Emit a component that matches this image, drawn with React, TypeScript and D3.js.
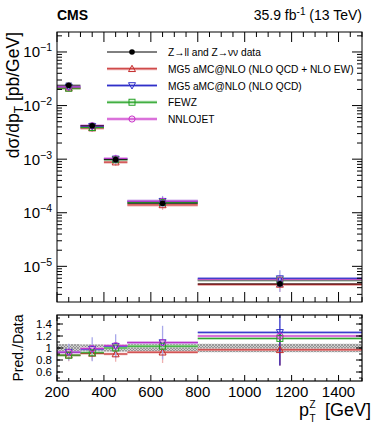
import React from 'react';
import * as d3 from 'd3';

// bins in pT(Z) [GeV]
const binEdges = [200, 300, 400, 500, 800, 1500];
const binCenters = [250, 350, 450, 650, 1150];

// measured cross section dσ/dpT [pb/GeV]
const dataXs = [0.0240, 0.0042, 0.00098, 0.000150, 0.0000047];
const dataErr = [0.0010, 0.00018, 0.00005, 0.000009, 0.0000004];
const dataRatioErr = [0.065, 0.06, 0.06, 0.065, 0.07];

// predictions
const nloEwXs = [0.0211, 0.0038, 0.00088, 0.000140, 0.0000046];
const nloQcdXs = [0.0223, 0.0041, 0.00101, 0.000164, 0.0000059];
const fewzXs = [0.0211, 0.0039, 0.00098, 0.000155, 0.0000055];
const nnlojetXs = [0.0223, 0.0042, 0.00102, 0.000164, 0.0000056];

// ratios to data
const nloEwRatio = [0.88, 0.91, 0.90, 0.93, 0.97];
const nloQcdRatio = [0.93, 0.98, 1.03, 1.09, 1.26];
const fewzRatio = [0.88, 0.92, 1.00, 1.03, 1.16];
const nnlojetRatio = [0.93, 0.99, 1.04, 1.09, 1.20];

const nloEwRatioErr = [0.10, 0.12, 0.13, 0.18, 0.26];
const nloQcdRatioErr = [0.14, 0.20, 0.20, 0.28, 0.55];
const fewzRatioErr = [0.04, 0.05, 0.05, 0.06, 0.06];
const nnlojetRatioErr = [0.04, 0.04, 0.05, 0.05, 0.05];

const xTicks = [200, 400, 600, 800, 1000, 1200, 1400];
const yLogTicks = [1e-1, 1e-2, 1e-3, 1e-4, 1e-5];
const yLogExp = ['−1', '−2', '−3', '−4', '−5'];
const ratioTicks = [0.6, 0.8, 1, 1.2, 1.4];
const ratioTickLabels = ['0.6', '0.8', '1', '1.2', '1.4'];

const legendLabels = [
  'Z→ll and Z→νν data',
  'MG5 aMC@NLO (NLO QCD + NLO EW)',
  'MG5 aMC@NLO (NLO QCD)',
  'FEWZ',
  'NNLOJET',
];

const series = [
  { name: legendLabels[1], color: '#c42a2a', light: '#eeb0b0', marker: 'tu', xs: nloEwXs, ratio: nloEwRatio, rerr: nloEwRatioErr },
  { name: legendLabels[2], color: '#3030c8', light: '#a8a8ea', marker: 'td', xs: nloQcdXs, ratio: nloQcdRatio, rerr: nloQcdRatioErr },
  { name: legendLabels[3], color: '#22a022', light: '#a8dca8', marker: 'sq', xs: fewzXs, ratio: fewzRatio, rerr: fewzRatioErr },
  { name: legendLabels[4], color: '#c832c8', light: '#ecb0ec', marker: 'ci', xs: nnlojetXs, ratio: nnlojetRatio, rerr: nnlojetRatioErr },
];

const W = 382, H = 431;
const L = 57, R = 362;
const T1 = 32, B1 = 302;
const T2 = 315, B2 = 381;
const FONT = '"Liberation Sans", Arial, Helvetica, sans-serif';

const Marker = ({ type, x, y, color }: any) => {
  const s = 3.5;
  if (type === 'tu')
    return <polygon points={`${x},${y - s} ${x - s},${y + s * 0.8} ${x + s},${y + s * 0.8}`} fill="none" stroke={color} strokeWidth={1} />;
  if (type === 'td')
    return <polygon points={`${x},${y + s} ${x - s},${y - s * 0.8} ${x + s},${y - s * 0.8}`} fill="none" stroke={color} strokeWidth={1} />;
  if (type === 'sq')
    return <rect x={x - 3} y={y - 3} width={6} height={6} fill="none" stroke={color} strokeWidth={1} />;
  if (type === 'ci') return <circle cx={x} cy={y} r={3.1} fill="none" stroke={color} strokeWidth={1} />;
  return <circle cx={x} cy={y} r={2.8} fill="#000" />;
};

export default function App() {
  const x = d3.scaleLinear().domain([200, 1500]).range([L, R]);
  const y = d3.scaleLog().domain([2.16e-6, 0.236]).range([B1, T1]);
  const yr = d3.scaleLinear().domain([0.45, 1.55]).range([B2, T2]);

  const xMinor = d3.range(200, 1501, 50);
  const yMinor: number[] = [];
  for (let e = -6; e <= -1; e++)
    for (let m = 2; m <= 9; m++) {
      const v = m * Math.pow(10, e);
      if (v > 2.16e-6 && v < 0.236) yMinor.push(v);
    }
  const rMinor = d3.range(0.5, 1.55, 0.1);

  return (
    <svg width={W} height={H} style={{ position: 'absolute', left: 0, top: 0, background: '#fff' }} fontFamily={FONT}>
      <defs>
        <pattern id="hatch" width={3} height={3} patternUnits="userSpaceOnUse">
          <rect width={3} height={3} fill="#cfcfcf" />
          <path d="M0,0 L3,3 M3,0 L0,3" stroke="#777" strokeWidth={0.6} />
        </pattern>
        <clipPath id="clipTop"><rect x={L} y={T1} width={R - L} height={B1 - T1} /></clipPath>
        <clipPath id="clipRat"><rect x={L} y={T2} width={R - L} height={B2 - T2} /></clipPath>
      </defs>

      {/* header */}
      <text x={L} y={20} fontSize={14} fontWeight="bold">CMS</text>
      <text x={R} y={20} fontSize={14} textAnchor="end">
        35.9 fb<tspan dy={-5} fontSize={10}>-1</tspan><tspan dy={5}> (13 TeV)</tspan>
      </text>

      {/* ===== top panel ===== */}
      <g clipPath="url(#clipTop)">
        {series.map((s, si) =>
          s.xs.map((v, i) => (
            <line key={`b${si}-${i}`} x1={x(binEdges[i])} x2={x(binEdges[i + 1])} y1={y(v)} y2={y(v)} stroke={s.light} strokeWidth={3} />
          ))
        )}
        {series.map((s, si) =>
          s.xs.map((v, i) => {
            const e = (v * s.rerr[i]) / s.ratio[i];
            return (
              <g key={`l${si}-${i}`}>
                <line x1={x(binEdges[i])} x2={x(binEdges[i + 1])} y1={y(v)} y2={y(v)} stroke={s.color} strokeWidth={1} />
                <line x1={x(binCenters[i])} x2={x(binCenters[i])} y1={y(v - e)} y2={y(v + e)} stroke={s.light} strokeWidth={1.3} />
              </g>
            );
          })
        )}
        {series.map((s, si) =>
          s.xs.map((v, i) => <Marker key={`m${si}-${i}`} type={s.marker} x={x(binCenters[i])} y={y(v)} color={s.color} />)
        )}
        {dataXs.map((v, i) => (
          <g key={`d${i}`}>
            <line x1={x(binEdges[i])} x2={x(binEdges[i + 1])} y1={y(v)} y2={y(v)} stroke="#000" strokeWidth={0.8} />
            <line x1={x(binCenters[i])} x2={x(binCenters[i])} y1={y(v - dataErr[i])} y2={y(v + dataErr[i])} stroke="#000" strokeWidth={1} />
            <rect x={x(binCenters[i]) - 3} y={y(v) - 3} width={6} height={6} fill="#2a2a7a" opacity={0.55} />
            <Marker type="data" x={x(binCenters[i])} y={y(v)} />
          </g>
        ))}
      </g>

      {/* top axes */}
      <rect x={L} y={T1} width={R - L} height={B1 - T1} fill="none" stroke="#000" strokeWidth={1} />
      {xMinor.map(t => {
        const len = t % 200 === 0 ? 10 : 5;
        return (
          <g key={`xt${t}`}>
            <line x1={x(t)} x2={x(t)} y1={B1} y2={B1 - len} stroke="#000" />
            <line x1={x(t)} x2={x(t)} y1={T1} y2={T1 + len} stroke="#000" />
          </g>
        );
      })}
      {yLogTicks.map((t, i) => (
        <g key={`yt${i}`}>
          <line x1={L} x2={L + 10} y1={y(t)} y2={y(t)} stroke="#000" />
          <line x1={R} x2={R - 10} y1={y(t)} y2={y(t)} stroke="#000" />
          <text x={52} y={y(t) + 5.5} fontSize={15} textAnchor="end">
            10<tspan dy={-6} fontSize={10.5}>{yLogExp[i]}</tspan>
          </text>
        </g>
      ))}
      {yMinor.map((t, i) => (
        <g key={`ym${i}`}>
          <line x1={L} x2={L + 5} y1={y(t)} y2={y(t)} stroke="#000" />
          <line x1={R} x2={R - 5} y1={y(t)} y2={y(t)} stroke="#000" />
        </g>
      ))}
      <text transform={`translate(19,${T1}) rotate(-90)`} fontSize={17.5} textAnchor="end">
        dσ/dp<tspan dy={4} fontSize={12}>T</tspan><tspan dy={-4}> [pb/GeV]</tspan>
      </text>

      {/* legend */}
      {legendLabels.map((lab, i) => {
        const ly = 52 + i * 16.75;
        const s = i === 0 ? null : series[i - 1];
        return (
          <g key={`lg${i}`}>
            {s && <line x1={107} x2={157} y1={ly} y2={ly} stroke={s.light} strokeWidth={3} />}
            <line x1={107} x2={157} y1={ly} y2={ly} stroke={s ? s.color : '#000'} strokeWidth={1} />
            <Marker type={s ? s.marker : 'data'} x={132} y={ly} color={s ? s.color : '#000'} />
            <text x={168} y={ly + 4} fontSize={10.2}>{lab}</text>
          </g>
        );
      })}

      {/* ===== ratio panel ===== */}
      <g clipPath="url(#clipRat)">
        {dataRatioErr.map((e, i) => (
          <rect key={`h${i}`} x={x(binEdges[i])} width={x(binEdges[i + 1]) - x(binEdges[i])} y={yr(1 + e)} height={yr(1 - e) - yr(1 + e)} fill="url(#hatch)" />
        ))}
        {series.map((s, si) =>
          s.ratio.map((v, i) => (
            <line key={`rb${si}-${i}`} x1={x(binEdges[i])} x2={x(binEdges[i + 1])} y1={yr(v)} y2={yr(v)} stroke={s.light} strokeWidth={2.5} />
          ))
        )}
        {series.map((s, si) =>
          s.ratio.map((v, i) => (
            <g key={`rl${si}-${i}`}>
              <line x1={x(binEdges[i])} x2={x(binEdges[i + 1])} y1={yr(v)} y2={yr(v)} stroke={s.color} strokeWidth={1} />
              <line x1={x(binCenters[i])} x2={x(binCenters[i])} y1={yr(v - s.rerr[i])} y2={yr(v + s.rerr[i])} stroke={i === 4 ? s.color : s.light} strokeWidth={1.3} />
            </g>
          ))
        )}
        {series.map((s, si) =>
          s.ratio.map((v, i) => <Marker key={`rm${si}-${i}`} type={s.marker} x={x(binCenters[i])} y={yr(v)} color={s.color} />)
        )}
      </g>
      <rect x={L} y={T2} width={R - L} height={B2 - T2} fill="none" stroke="#000" strokeWidth={1.2} />
      {xMinor.map(t => {
        const len = t % 200 === 0 ? 6 : 3;
        return (
          <g key={`rxt${t}`}>
            <line x1={x(t)} x2={x(t)} y1={B2} y2={B2 - len} stroke="#000" />
            <line x1={x(t)} x2={x(t)} y1={T2} y2={T2 + len} stroke="#000" />
          </g>
        );
      })}
      {xTicks.map(t => (
        <text key={`xl${t}`} x={x(t)} y={397} fontSize={15} textAnchor="middle">{t}</text>
      ))}
      {ratioTicks.map((t, i) => (
        <g key={`ryt${i}`}>
          <line x1={L} x2={L + 6} y1={yr(t)} y2={yr(t)} stroke="#000" />
          <line x1={R} x2={R - 6} y1={yr(t)} y2={yr(t)} stroke="#000" />
          <text x={52} y={yr(t) + 4} fontSize={11.5} textAnchor="end">{ratioTickLabels[i]}</text>
        </g>
      ))}
      {rMinor.map((t, i) => (
        <g key={`rym${i}`}>
          <line x1={L} x2={L + 3} y1={yr(t)} y2={yr(t)} stroke="#000" />
          <line x1={R} x2={R - 3} y1={yr(t)} y2={yr(t)} stroke="#000" />
        </g>
      ))}
      <text transform={`translate(23,${(T2 + B2) / 2}) rotate(-90)`} fontSize={14} textAnchor="middle">Pred./Data</text>

      {/* x title */}
      <text x={299} y={416} fontSize={18}>p</text>
      <text x={309.5} y={408} fontSize={10}>Z</text>
      <text x={309.5} y={422} fontSize={10}>T</text>
      <text x={371} y={416} fontSize={18} textAnchor="end">[GeV]</text>
    </svg>
  );
}
